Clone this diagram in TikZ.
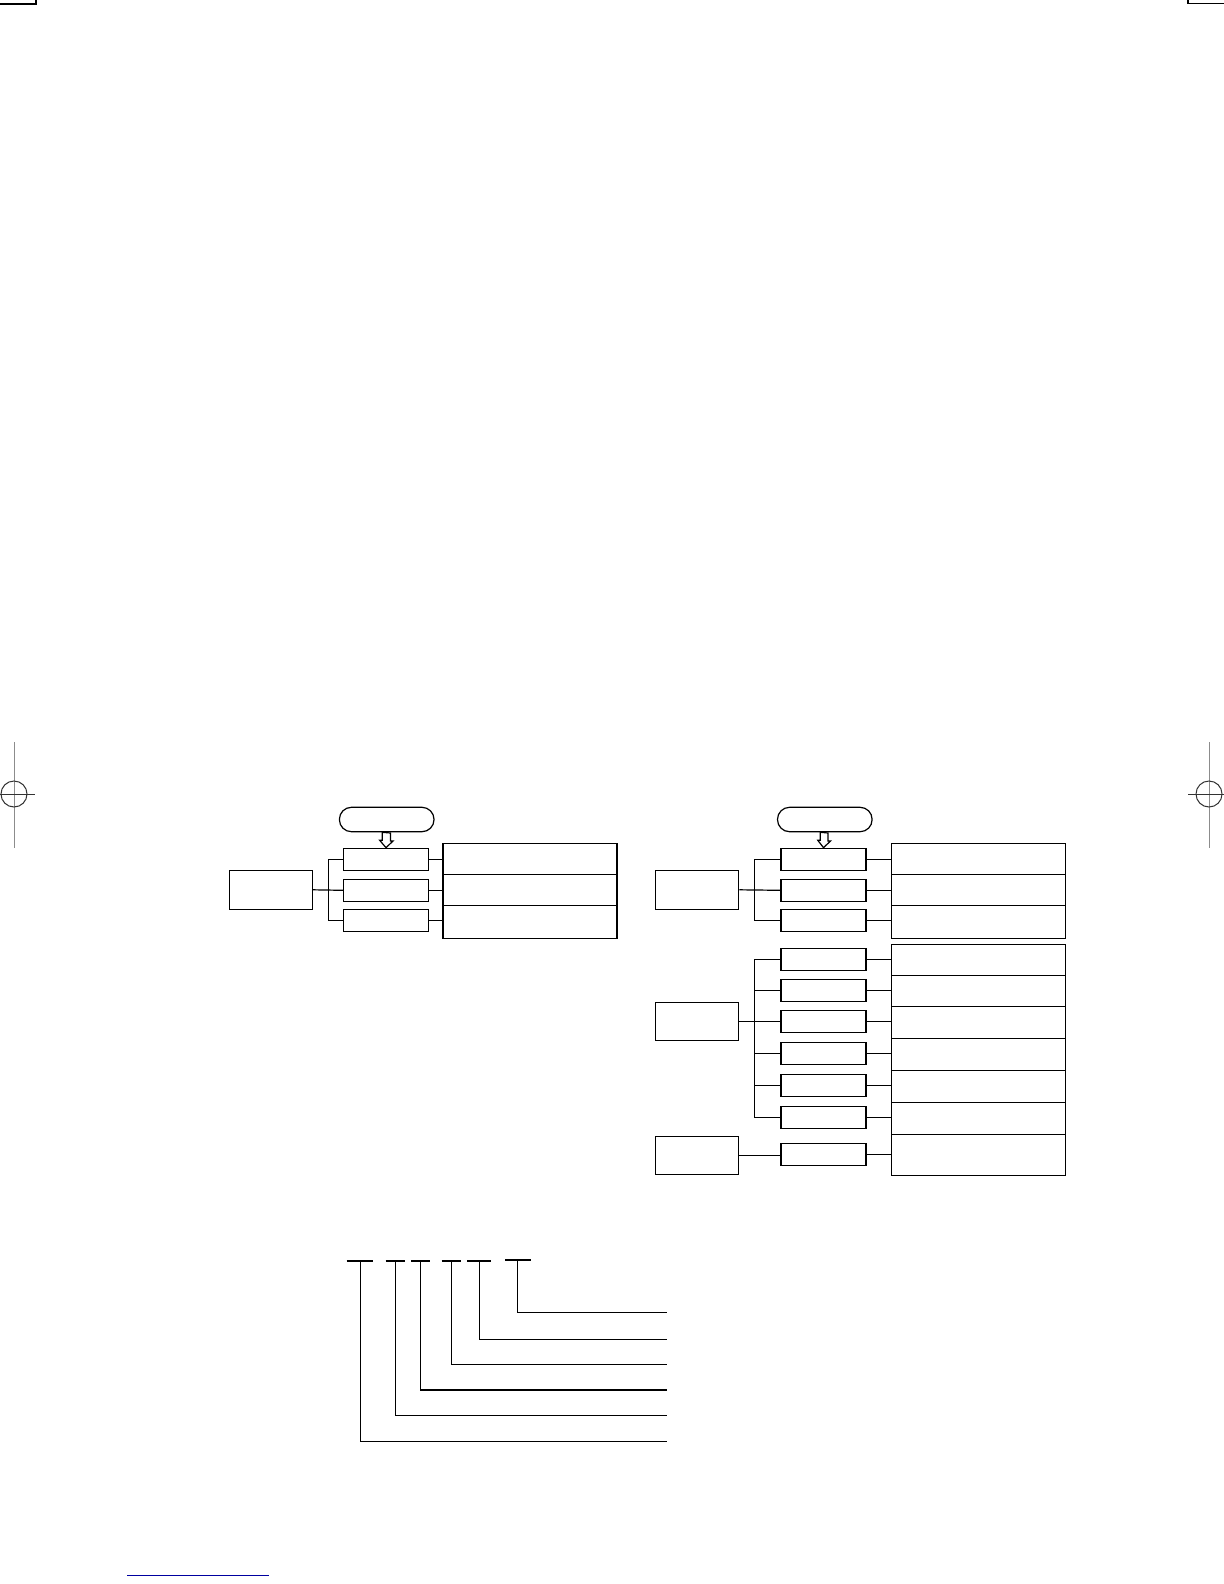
\documentclass[tikz,border=0pt]{standalone}
\begin{document}
\begin{tikzpicture}[x=0.5pt,y=-0.5pt,
  box/.style={draw,line width=0.6pt,rectangle,inner sep=0pt,minimum height=#1},
  lbox/.style={box=#1,minimum width=41.7pt},
  sbox/.style={box=#1,minimum width=42.5pt},
  rbox/.style={box=#1,minimum width=87pt},
  pill/.style={draw,line width=0.6pt,rounded corners=6pt,inner sep=0pt,minimum width=47.3pt,minimum height=12.2pt},
  wire/.style={line width=0.6pt},
  thin/.style={line width=0.55pt},
  bar/.style={line width=1pt},
  regl/.style={line width=0.5pt,black!45},
  regc/.style={line width=0.5pt,black!80}]
\useasboundingbox (0,0) rectangle (1224,1584);

% corner marks
\draw[line width=0.6pt] (0,4) -- (36,4) -- (36,0);
\draw[line width=0.6pt] (1188,0) -- (1188,3.5) -- (1224,3.5);

% registration marks
\draw[regl] (14,742) -- (14,848);
\draw[regc] (14,794) circle (6.5pt);
\draw[regc] (0,794) -- (35,794);
\draw[regl] (1209,742) -- (1209,848);
\draw[regc] (1209,794) circle (6.5pt);
\draw[regc] (1188,794) -- (1224,794);

% ===== diagram 1 =====
\node[pill] (p1) at (386.7,819.5) {};
\node[lbox=19.5pt] (L1) at (270.8,889.8) {};
\node[sbox=11pt] (S11) at (386,859.3) {};
\node[sbox=11pt] (S12) at (386,890.3) {};
\node[sbox=11pt] (S13) at (386,920.3) {};
\node[rbox=15.5pt] (R11) at (530,858.8) {};
\node[rbox=15.5pt] (R12) at (530,889.8) {};
\node[rbox=16.5pt] (R13) at (530,921.8) {};
\draw[wire,fill=white] (p1.south) ++(-4.5,0) -- ++(0,8) -- ++(-2.5,0) -- (S11.north) -- ++(7,-6.7) -- ++(-2.5,0) -- ++(0,-8) -- cycle;
\coordinate (b1) at (328.3,890.3);
\draw[wire] (L1.east) -- (S12.west);
\draw[wire] (S11.west) -| (b1) |- (S13.west);
\draw[wire] (S11.east) -- (S11.east -| R11.west);
\draw[wire] (S12.east) -- (S12.east -| R12.west);
\draw[wire] (S13.east) -- (S13.east -| R13.west);

% ===== diagram 2 =====
\node[pill] (p2) at (824.8,819.5) {};
\node[lbox=19.5pt] (L2) at (697,889.8) {};
\node[sbox=11pt] (S21) at (823.5,859.3) {};
\node[sbox=11pt] (S22) at (823.5,890.3) {};
\node[sbox=11pt] (S23) at (823.5,920.3) {};
\node[rbox=15.5pt] (R21) at (978.5,858.8) {};
\node[rbox=15.5pt] (R22) at (978.5,889.8) {};
\node[rbox=16.5pt] (R23) at (978.5,921.8) {};
\draw[wire,fill=white] (p2.south) ++(-4.5,0) -- ++(0,8) -- ++(-2.5,0) -- (S21.north) -- ++(7,-6.7) -- ++(-2.5,0) -- ++(0,-8) -- cycle;
\coordinate (b2) at (754.3,890.3);
\draw[wire] (L2.east) -- (S22.west);
\draw[wire] (S21.west) -| (b2) |- (S23.west);
\draw[wire] (S21.east) -- (S21.east -| R21.west);
\draw[wire] (S22.east) -- (S22.east -| R22.west);
\draw[wire] (S23.east) -- (S23.east -| R23.west);

% ===== diagram 3 =====
\node[lbox=19pt] (L3) at (697,1021.3) {};
\node[sbox=11pt] (S31) at (823.5,959.8) {};
\node[sbox=11pt] (S32) at (823.5,990.8) {};
\node[sbox=11pt] (S33) at (823.5,1021.3) {};
\node[sbox=11pt] (S34) at (823.5,1053.3) {};
\node[sbox=11pt] (S35) at (823.5,1085.3) {};
\node[sbox=11pt] (S36) at (823.5,1117.3) {};
\node[rbox=15.5pt] (R31) at (978.5,959.8) {};
\node[rbox=15.5pt] (R32) at (978.5,990.8) {};
\node[rbox=16pt] (R33) at (978.5,1022.3) {};
\node[rbox=16pt] (R34) at (978.5,1054.3) {};
\node[rbox=16pt] (R35) at (978.5,1086.3) {};
\node[rbox=16pt] (R36) at (978.5,1118.3) {};
\coordinate (b3) at (754.3,1021.3);
\draw[wire] (L3.east) -- (S33.west);
\draw[wire] (S31.west) -| (b3) |- (S36.west);
\draw[wire] (b3 |- S32.west) -- (S32.west);
\draw[wire] (b3 |- S34.west) -- (S34.west);
\draw[wire] (b3 |- S35.west) -- (S35.west);
\foreach \i in {1,...,6} {
  \draw[wire] (S3\i.east) -- (S3\i.east -| R3\i.west);
}

% ===== diagram 4 =====
\node[lbox=19pt] (L4) at (697,1155.3) {};
\node[sbox=11pt] (S41) at (823.5,1154.3) {};
\node[rbox=20.5pt] (R41) at (978.5,1154.8) {};
\draw[wire] (L4.east) -- (L4.east -| S41.west);
\draw[wire] (S41.east) -- (S41.east -| R41.west);

% ===== code breakdown =====
\coordinate (bar1l) at (346.7,1260.7); \coordinate (bar1r) at (372.7,1260.7);
\coordinate (bar2l) at (385.7,1260.7); \coordinate (bar2r) at (405,1260.7);
\coordinate (bar3l) at (411,1260.7);   \coordinate (bar3r) at (430,1260.7);
\coordinate (bar4l) at (441.7,1260.7); \coordinate (bar4r) at (461,1260.7);
\coordinate (bar5l) at (467,1260.7);   \coordinate (bar5r) at (491.3,1260.7);
\coordinate (bar6l) at (505,1259.7);   \coordinate (bar6r) at (531,1259.7);
\foreach \i in {1,...,6} { \draw[bar] (bar\i l) -- (bar\i r); }
\coordinate (e1) at (666.7,1441.7);
\coordinate (e2) at (666.7,1415.3);
\coordinate (e3) at (666.7,1390);
\coordinate (e4) at (666.7,1364.7);
\coordinate (e5) at (666.7,1339.3);
\coordinate (e6) at (666.7,1312.3);
\draw[thin] (360.7,1260.7) |- (e1);
\draw[thin] (395.7,1260.7) |- (e2);
\draw[thin] (420.7,1260.7) |- (e3);
\draw[thin] (451.7,1260.7) |- (e4);
\draw[thin] (479.3,1260.7) |- (e5);
\draw[thin] (517.3,1259.7) |- (e6);

% blue footer line
\definecolor{footblue}{RGB}{0,0,160}
\draw[line width=0.6pt,footblue] (127.3,1575.3) -- (268.7,1575.3);
\end{tikzpicture}
\end{document}
